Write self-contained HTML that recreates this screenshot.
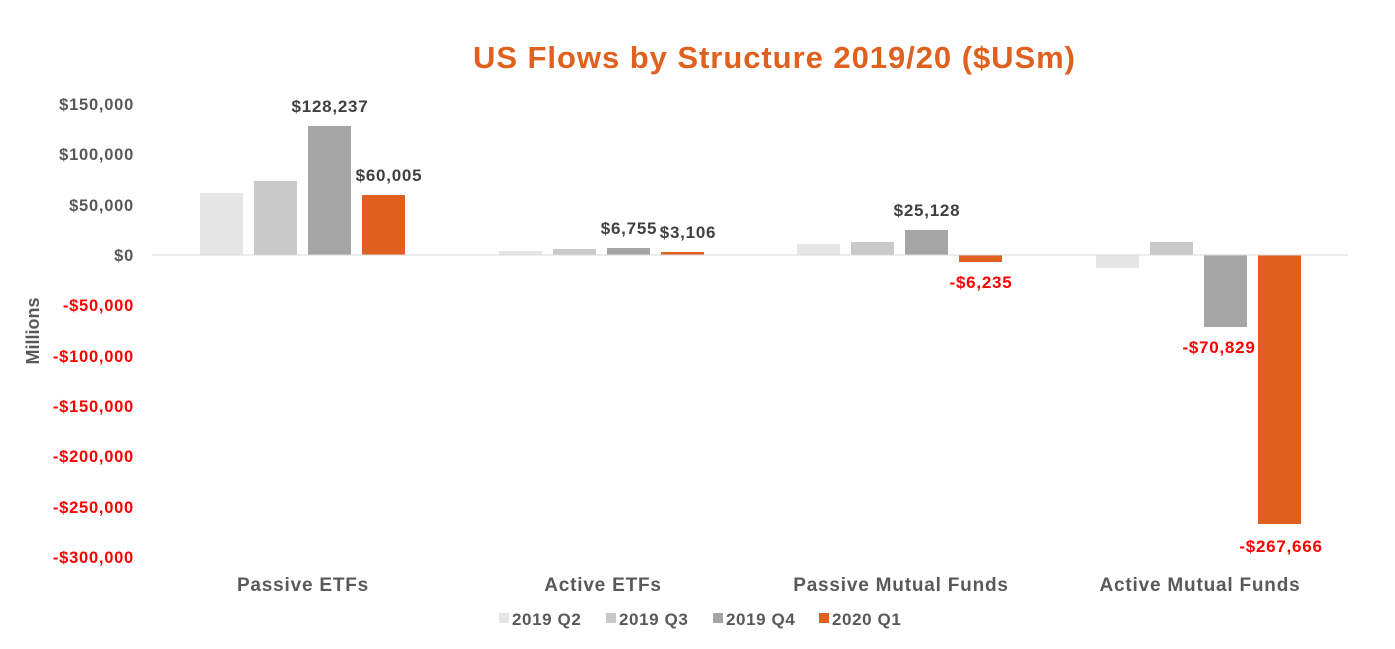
<!DOCTYPE html>
<html><head><meta charset="utf-8"><style>
html,body{margin:0;padding:0;background:#fff;}
svg{display:block;font-family:"Liberation Sans",Arial,sans-serif;}
</style></head><body>
<svg width="1395" height="649" viewBox="0 0 1395 649" xmlns="http://www.w3.org/2000/svg">
<text x="473" y="68" font-size="31" font-weight="bold" fill="#e0601f" textLength="602" lengthAdjust="spacing">US Flows by Structure 2019/20 ($USm)</text>
<g font-size="16.5" font-weight="bold" text-anchor="end" letter-spacing="0.75">
<text x="134" y="110" fill="#595959">$150,000</text>
<text x="134" y="160" fill="#595959">$100,000</text>
<text x="134" y="211" fill="#595959">$50,000</text>
<text x="134" y="261" fill="#595959">$0</text>
<text x="134" y="311" fill="#ff0000">-$50,000</text>
<text x="134" y="362" fill="#ff0000">-$100,000</text>
<text x="134" y="412" fill="#ff0000">-$150,000</text>
<text x="134" y="462" fill="#ff0000">-$200,000</text>
<text x="134" y="513" fill="#ff0000">-$250,000</text>
<text x="134" y="563" fill="#ff0000">-$300,000</text>
</g>
<text transform="translate(39,331) rotate(-90)" text-anchor="middle" font-size="18" font-weight="bold" fill="#595959">Millions</text>
<rect x="200" y="193" width="43" height="62" fill="#e6e6e6"/>
<rect x="254" y="181" width="43" height="74" fill="#c9c9c9"/>
<rect x="308" y="126" width="43" height="129" fill="#a5a5a5"/>
<rect x="362" y="195" width="43" height="60" fill="#e06020"/>
<rect x="499" y="251" width="43" height="4" fill="#e6e6e6"/>
<rect x="553" y="249" width="43" height="6" fill="#c9c9c9"/>
<rect x="607" y="248" width="43" height="7" fill="#a5a5a5"/>
<rect x="661" y="252" width="43" height="3" fill="#e06020"/>
<rect x="797" y="244" width="43" height="11" fill="#e6e6e6"/>
<rect x="851" y="242" width="43" height="13" fill="#c9c9c9"/>
<rect x="905" y="230" width="43" height="25" fill="#a5a5a5"/>
<rect x="959" y="255" width="43" height="7" fill="#e06020"/>
<rect x="1096" y="255" width="43" height="13" fill="#e6e6e6"/>
<rect x="1150" y="242" width="43" height="13" fill="#c9c9c9"/>
<rect x="1204" y="255" width="43" height="72" fill="#a5a5a5"/>
<rect x="1258" y="255" width="43" height="269" fill="#e06020"/>
<line x1="152" y1="255" x2="1348" y2="255" stroke="#d9d9d9" stroke-width="1"/>
<g font-size="17" font-weight="bold" text-anchor="middle" letter-spacing="0.75">
<text x="330" y="112" fill="#404040">$128,237</text>
<text x="389" y="181" fill="#404040">$60,005</text>
<text x="629" y="234" fill="#404040">$6,755</text>
<text x="688" y="238" fill="#404040">$3,106</text>
<text x="927" y="216" fill="#404040">$25,128</text>
<text x="981" y="288" fill="#ff0000">-$6,235</text>
<text x="1219" y="353" fill="#ff0000">-$70,829</text>
<text x="1281" y="552" fill="#ff0000">-$267,666</text>
</g>
<g font-size="19" font-weight="bold" fill="#595959" text-anchor="middle" letter-spacing="0.8">
<text x="303" y="591">Passive ETFs</text>
<text x="603" y="591">Active ETFs</text>
<text x="901" y="591">Passive Mutual Funds</text>
<text x="1200" y="591">Active Mutual Funds</text>
</g>
<g font-size="17" font-weight="bold" fill="#595959" letter-spacing="0.6">
<rect x="499" y="613" width="10" height="10" fill="#e6e6e6"/><text x="512" y="625">2019 Q2</text>
<rect x="606" y="613" width="10" height="10" fill="#c9c9c9"/><text x="619" y="625">2019 Q3</text>
<rect x="713" y="613" width="10" height="10" fill="#a5a5a5"/><text x="726" y="625">2019 Q4</text>
<rect x="819" y="613" width="10" height="10" fill="#e06020"/><text x="832" y="625">2020 Q1</text>
</g>
</svg>
</body></html>
